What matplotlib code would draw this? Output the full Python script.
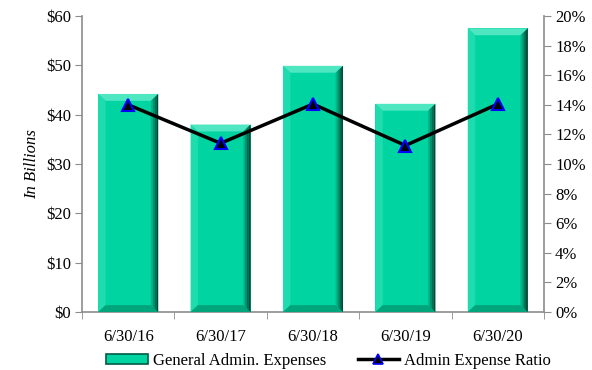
import matplotlib
matplotlib.use("Agg")
from matplotlib import pyplot as plt
from matplotlib.patches import Polygon, Patch
from matplotlib.lines import Line2D
from matplotlib.ticker import FuncFormatter
import numpy as np

dates = ["6/30/16", "6/30/17", "6/30/18", "6/30/19", "6/30/20"]
expenses = [44.2, 38.0, 49.9, 42.2, 57.5]          # $ billions
ratio = [0.140, 0.114, 0.1405, 0.1125, 0.1405]      # admin expense ratio

plt.rcParams['font.family'] = ['Liberation Serif', 'DejaVu Serif']
plt.rcParams['font.size'] = 12

green = "#00d4a0"
gray = "#8c8c8c"

fig = plt.figure(figsize=(5.92, 3.70), dpi=100)
ax = fig.add_axes([82/592, 1-312/370, (544-82)/592, (312-16)/370])

x = np.arange(len(dates))
w = 0.65
bars = ax.bar(x, expenses, width=w, color=green, zorder=2)

# fake bevel on each bar
bx = 0.08
by = 1.4
for b in bars:
    x0 = b.get_x(); x1 = x0 + b.get_width(); h = b.get_height()
    ax.add_patch(Polygon([(x0, h), (x1, h), (x1-bx, h-by), (x0+bx, h-by)],
                         closed=True, fc="#4fe6c2", ec="none", zorder=3))
    ax.add_patch(Polygon([(x0, 0), (x0+bx, by), (x0+bx, h-by), (x0, h)],
                         closed=True, fc="#1fdcae", ec="none", zorder=3))
    ax.add_patch(Polygon([(x0, 0), (x1, 0), (x1-bx, by), (x0+bx, by)],
                         closed=True, fc="#00a57c", ec="none", zorder=3))
    shades = ["#00b588", "#008f6b", "#006b50", "#004a37"]
    n = len(shades)
    for i, c in enumerate(shades):
        xa = x1 - bx + bx*i/n
        xb = x1 - bx + bx*(i+1)/n
        ya = by*(1 - i/n); yb = by*(1 - (i+1)/n)
        ax.add_patch(Polygon([(xa, ya), (xb, yb), (xb, h-yb), (xa, h-ya)],
                             closed=True, fc=c, ec="none", zorder=3))

ax.set_xlim(-0.5, len(dates)-0.5)
ax.set_ylim(0, 60)
ax.set_yticks(np.arange(0, 61, 10))
ax.yaxis.set_major_formatter(FuncFormatter(lambda v, p: "$%d" % v))
ax.set_xticks(x)
ax.set_xticklabels(dates)
ax.set_xticks(np.arange(-0.5, len(dates), 1), minor=True)
ax.tick_params(axis='x', which='major', length=0, pad=12)
ax.tick_params(axis='x', which='minor', length=5, color=gray)
ax.tick_params(axis='y', length=5, color=gray, pad=3)
ax.set_ylabel("In Billions", style='italic', labelpad=4)
for s in ["top", "right"]:
    ax.spines[s].set_visible(False)
for s in ["left", "bottom"]:
    ax.spines[s].set_color(gray)
    ax.spines[s].set_linewidth(1.2)

ax2 = ax.twinx()
ax2.plot(x, ratio, color="black", lw=2.5, marker='^', markersize=9,
         markerfacecolor="black", markeredgecolor="blue", markeredgewidth=1.5, zorder=5)
ax2.set_ylim(0, 0.20)
ax2.set_yticks(np.arange(0, 0.201, 0.02))
ax2.yaxis.set_major_formatter(FuncFormatter(lambda v, p: "%d%%" % round(v*100)))
ax2.tick_params(axis='y', length=5, color=gray, pad=3)
for s in ["top", "left", "bottom"]:
    ax2.spines[s].set_visible(False)
ax2.spines["right"].set_color(gray)
ax2.spines["right"].set_linewidth(1.2)

handles = [Patch(facecolor=green, edgecolor="#005a44", linewidth=1.2),
           Line2D([0], [0], color="black", lw=2.5, marker='^', markersize=7,
                  markerfacecolor="black", markeredgecolor="blue", markeredgewidth=1.2)]
fig.legend(handles, ["General Admin. Expenses", "Admin Expense Ratio"],
           loc="center", bbox_to_anchor=(0.555, 0.025), ncol=2, frameon=False,
           handlelength=2.5, handleheight=0.55, handletextpad=0.3, columnspacing=1.9,
           fontsize=12)

fig.savefig("out.png", dpi=100)
